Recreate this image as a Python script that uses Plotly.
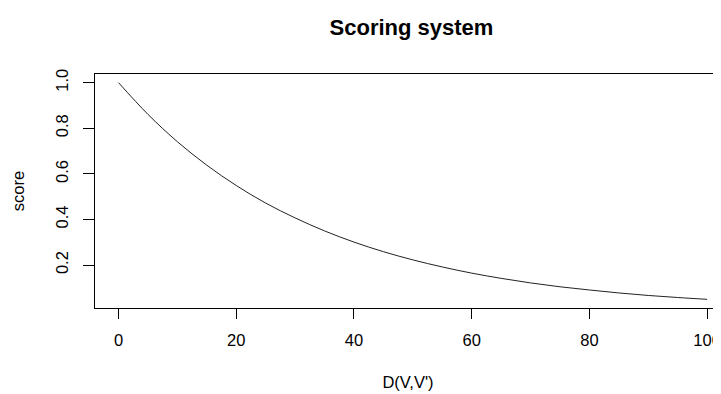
import plotly.graph_objects as go

# Values
distance = [0, 5, 10, 15, 20, 25, 30, 35, 40, 45, 50, 55, 60, 65, 70, 75, 80, 85, 90, 95, 100]
score = [1.000, 0.861, 0.741, 0.638, 0.549, 0.472, 0.407, 0.350, 0.301, 0.259, 0.223,
         0.192, 0.165, 0.142, 0.122, 0.105, 0.091, 0.078, 0.067, 0.058, 0.050]
x_ticks = [0, 20, 40, 60, 80, 100]
y_ticks = [0.2, 0.4, 0.6, 0.8, 1.0]
y_tick_labels = ["0.2", "0.4", "0.6", "0.8", "1.0"]

FONT = "Liberation Sans, Arial, sans-serif"
OFF = 8  # page body margin offset

fig = go.Figure()
fig.add_trace(go.Scatter(x=distance, y=score, mode="lines",
                         line=dict(color="#222222", width=1, shape="spline"),
                         hoverinfo="skip", showlegend=False))

fig.update_layout(
    width=721 - OFF, height=394 - OFF,
    margin=dict(l=95 - OFF, r=0, t=74 - OFF, b=86),
    paper_bgcolor="white", plot_bgcolor="white",
    font=dict(family=FONT, size=16.5, color="black"),
    title=dict(text="<b>Scoring system</b>", font=dict(family=FONT, size=22, color="black"),
               x=(411.5 - 95) / 626, xref="paper", xanchor="center",
               y=1 - (27 - OFF) / (394 - OFF), yref="container", yanchor="middle"),
)
fig.update_xaxes(range=[-4, 102.36], tickvals=x_ticks, ticks="outside", ticklen=10,
                 tickwidth=1, tickcolor="black", showline=True, linecolor="black",
                 linewidth=1, mirror=True, showgrid=False, zeroline=False,
                 ticklabelstandoff=7, automargin=False,
                 title=dict(text="D(V,V')", standoff=28,
                            font=dict(family=FONT, size=16.5, color="black")))
fig.update_yaxes(range=[0.012, 1.038], tickvals=y_ticks, ticktext=y_tick_labels,
                 tickangle=-90, ticks="outside", ticklen=11, tickwidth=1,
                 tickcolor="black", showline=True, linecolor="black", linewidth=1,
                 mirror=False, showgrid=False, zeroline=False,
                 ticklabelstandoff=8, automargin=False,
                 title=dict(text="score", standoff=24,
                            font=dict(family=FONT, size=16.5, color="black")))

fig.write_html("out.html")
